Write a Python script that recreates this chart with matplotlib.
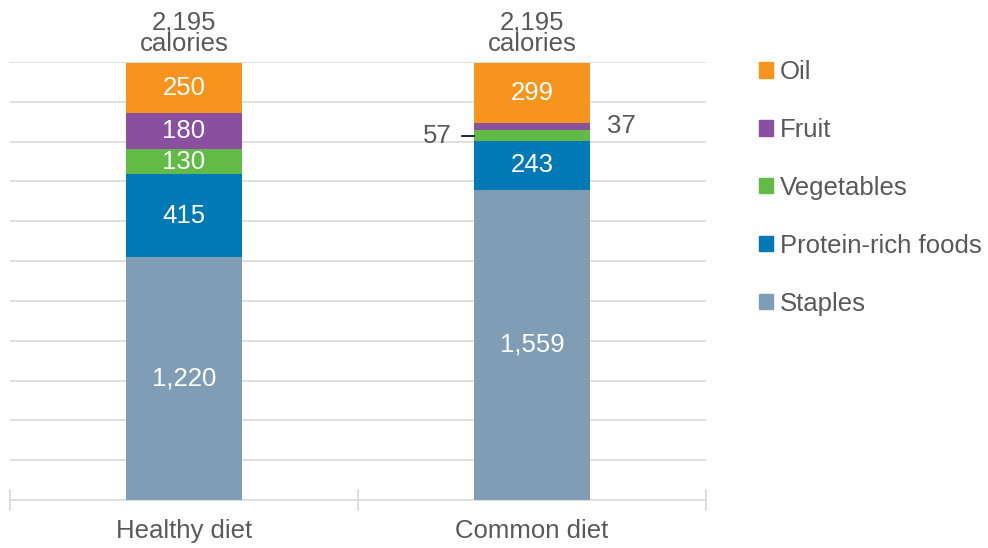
import matplotlib

matplotlib.use("Agg")
import matplotlib.pyplot as plt
from matplotlib.patches import Patch
import numpy as np

plt.rcParams["font.family"] = ["Liberation Sans", "DejaVu Sans"]

diets = ["Healthy diet", "Common diet"]
groups = ["Staples", "Protein-rich foods", "Vegetables", "Fruit", "Oil"]
staples = [1220, 1559]
protein = [415, 243]
vegetables = [130, 57]
fruit = [180, 37]
oil = [250, 299]
totals = [2195, 2195]

colors = ["#7f9db5", "#0079b5", "#62bb46", "#8b4fa0", "#f7941d"]
text_grey = "#595959"
fs = 18.5

fig = plt.figure(figsize=(9.88, 5.48), dpi=100)
ax = fig.add_axes([10 / 988, 1 - 500 / 548, 696 / 988, 438 / 548])

x = np.arange(len(diets))
width = 0.333
bottom = np.zeros(len(diets))
series = [staples, protein, vegetables, fruit, oil]
for name, vals, col in zip(groups, series, colors):
    vals = np.array(vals, dtype=float)
    ax.bar(x, vals, width, bottom=bottom, color=col, zorder=3)
    for i, v in enumerate(vals):
        if v >= 100:
            ax.text(x[i], bottom[i] + v / 2, f"{int(v):,}", ha="center", va="center",
                    color="white", fontsize=fs)
    bottom += vals

# small segments of the common diet, labelled outside the bar
veg_mid = staples[1] + protein[1] + vegetables[1] / 2
ax.text(x[1] - width / 2 - 0.063, veg_mid, f"{vegetables[1]}", ha="right", va="center",
        color=text_grey, fontsize=fs)
ax.plot([x[1] - width / 2 - 0.035, x[1] - width / 2], [veg_mid, veg_mid],
        color="black", lw=1.2, zorder=4, clip_on=False)
fruit_mid = staples[1] + protein[1] + vegetables[1] + fruit[1] / 2
ax.text(x[1] + width / 2 + 0.05, fruit_mid, f"{fruit[1]}", ha="left", va="center",
        color=text_grey, fontsize=fs)

for i, t in enumerate(totals):
    ax.text(x[i], t + 35, f"{t:,}\ncalories", ha="center", va="bottom",
            color=text_grey, fontsize=fs, linespacing=0.87)

ax.set_xlim(-0.5, 1.5)
ax.set_ylim(0, 2200)
ax.set_yticks(np.arange(200, 2201, 200))
ax.yaxis.grid(True, color="#d9d9d9", lw=1.2, zorder=0)
ax.tick_params(axis="y", length=0, labelleft=False)
ax.set_xticks([-0.5, 0.5, 1.5])
ax.set_xticklabels([])
ax.set_xticks(x, minor=True)
ax.set_xticklabels(diets, minor=True)
ax.tick_params(axis="x", which="major", direction="inout", length=16, color="#d9d9d9", width=1.2)
ax.tick_params(axis="x", which="minor", length=0, pad=14, labelsize=fs, labelcolor=text_grey)
for s in ["top", "right", "left"]:
    ax.spines[s].set_visible(False)
ax.spines["bottom"].set_color("#d9d9d9")
ax.spines["bottom"].set_linewidth(1.2)

handles = [Patch(color=c, label=g) for g, c in zip(groups, colors)][::-1]
leg = fig.legend(handles=handles, loc="upper left", bbox_to_anchor=(759 / 988, 1 - 60 / 548),
                 frameon=False, fontsize=fs, handlelength=0.55, handleheight=0.55,
                 handletextpad=0.25, labelspacing=1.32, borderaxespad=0, borderpad=0)
for t in leg.get_texts():
    t.set_color(text_grey)

fig.savefig("out.png", dpi=100)
